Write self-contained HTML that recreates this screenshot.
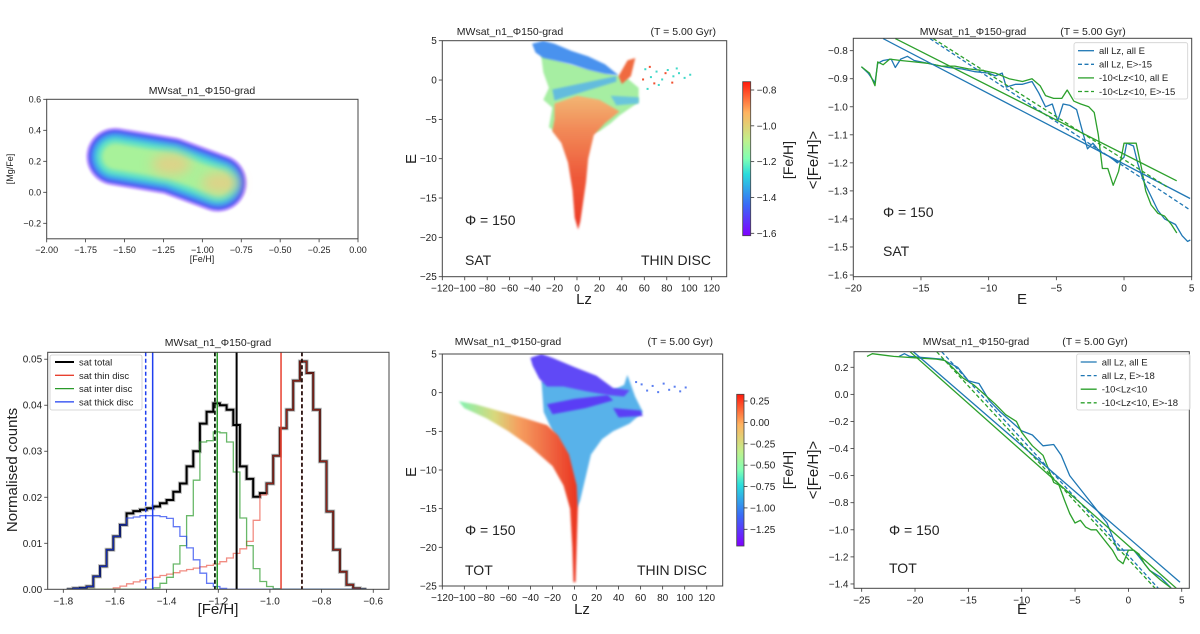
<!DOCTYPE html>
<html><head><meta charset="utf-8">
<style>
html,body{margin:0;padding:0;background:#fff;}
svg{display:block;font-family:"Liberation Sans","DejaVu Sans",sans-serif;}
</style></head>
<body>
<svg id="fig" width="1200" height="634" viewBox="0 0 1200 634" xmlns="http://www.w3.org/2000/svg">
<defs>
<linearGradient id="rainbowV" x1="0" y1="1" x2="0" y2="0">
<stop offset="0" stop-color="#8000ff"/><stop offset="0.2" stop-color="#3a6af7"/><stop offset="0.4" stop-color="#2adcdc"/><stop offset="0.5" stop-color="#80ffb4"/><stop offset="0.62" stop-color="#c0f08c"/><stop offset="0.8" stop-color="#ffb360"/><stop offset="1" stop-color="#ff1a0d"/>
</linearGradient>
<linearGradient id="orangeV" x1="0" y1="0" x2="0" y2="1">
<stop offset="0" stop-color="#f3b673"/><stop offset="0.25" stop-color="#f28a58"/><stop offset="0.6" stop-color="#ee5a3a"/><stop offset="1" stop-color="#ec3a26"/>
</linearGradient>
<linearGradient id="armH" x1="0" y1="0" x2="1" y2="0">
<stop offset="0" stop-color="#80f2b0"/><stop offset="0.3" stop-color="#d8d87c"/><stop offset="0.5" stop-color="#f5a060"/><stop offset="0.75" stop-color="#f06a44"/><stop offset="1" stop-color="#ea3420"/>
</linearGradient>
<filter id="blur1" filterUnits="userSpaceOnUse" x="0" y="0" width="1200" height="634"><feGaussianBlur stdDeviation="1"/></filter>
<filter id="blur2" filterUnits="userSpaceOnUse" x="0" y="0" width="1200" height="634"><feGaussianBlur stdDeviation="2"/></filter>
<filter id="blur6" filterUnits="userSpaceOnUse" x="0" y="0" width="1200" height="634"><feGaussianBlur stdDeviation="6"/></filter>
</defs>
</svg>
<script>
// ---------- data: histogram (bottom-left) ----------
const histStart = -1.787;
const histBinWidth = 0.0258;
const histTotal = [0,0.0002,0.0003,0.0006,0.0028,0.005,0.0086,0.0115,0.014,0.0165,0.017,0.0173,0.0176,0.018,0.0187,0.0194,0.0212,0.023,0.0267,0.030,0.036,0.0386,0.0404,0.040,0.039,0.0357,0.0267,0.024,0.0201,0.0209,0.023,0.029,0.035,0.039,0.0453,0.0495,0.047,0.039,0.0278,0.0169,0.0086,0.0038,0.001,0.0002,0];
const histThick = [0,0.0002,0.0003,0.0006,0.0028,0.005,0.0086,0.0115,0.014,0.0155,0.0157,0.016,0.016,0.016,0.0158,0.0154,0.0136,0.0115,0.009,0.0064,0.0035,0.0013,0.0006,0.0002,0,0,0,0,0,0,0,0,0,0,0,0,0,0,0,0,0,0,0,0,0];
const histThin = [0,0,0,0,0,0,0,0.0003,0.0007,0.0012,0.0016,0.002,0.0023,0.0026,0.003,0.0033,0.0036,0.004,0.0043,0.0046,0.0049,0.0052,0.0055,0.006,0.0068,0.0078,0.0088,0.0104,0.015,0.0205,0.023,0.029,0.035,0.039,0.0453,0.0495,0.047,0.039,0.0278,0.0169,0.0086,0.0038,0.001,0.0002,0];
const histInter = [0,0,0,0,0,0,0,0,0,0,0,0,0,0.0003,0.0013,0.0026,0.0055,0.0095,0.016,0.0237,0.032,0.0323,0.0342,0.034,0.032,0.0255,0.0155,0.0095,0.0045,0.0017,0.0006,0.0001,0,0,0,0,0,0,0,0,0,0,0,0,0];
const meanLines = [ // [value, color, dashed]
  [-1.481,'#1f3ff0',true],[-1.454,'#1f3ff0',false],[-1.213,'#2a9a2a',true],[-1.213,'#000',true],[-1.204,'#2a9a2a',false],
  [-1.129,'#000',false],[-0.957,'#e8402f',false],[-0.876,'#e8402f',true],[-0.876,'#000',true]];
// ---------- data: gradient panels ----------
const satBlue = [[-19.4,-0.857],[-18.9,-0.88],[-18.4,-0.915],[-18.2,-0.845],[-17.8,-0.835],[-17.2,-0.83],[-16.9,-0.86],[-16.5,-0.83],[-16,-0.82],[-15.5,-0.835],[-15,-0.84],[-14,-0.85],[-13,-0.86],[-12,-0.865],[-11,-0.875],[-10,-0.88],[-9.5,-0.89],[-9,-0.88],[-8.7,-0.93],[-8,-0.92],[-7.5,-0.92],[-6.8,-0.91],[-6.3,-0.95],[-5.8,-1.0],[-5.3,-0.99],[-4.9,-1.05],[-4.5,-0.99],[-4.0,-0.995],[-3.5,-1.01],[-3.0,-1.1],[-2.7,-1.15],[-2.3,-1.13],[-1.8,-1.16],[-1.0,-1.18],[-0.5,-1.2],[0,-1.18],[0.2,-1.13],[0.7,-1.14],[1.0,-1.2],[1.4,-1.26],[1.8,-1.3],[2.5,-1.37],[3.0,-1.4],[3.8,-1.42],[4.3,-1.46],[4.7,-1.48],[4.9,-1.475]];
const satGreen = [[-19.4,-0.857],[-18.8,-0.88],[-18.4,-0.925],[-18.2,-0.84],[-17.8,-0.85],[-17.3,-0.83],[-16.5,-0.835],[-15.5,-0.84],[-14.5,-0.845],[-13.5,-0.855],[-12.5,-0.855],[-11.5,-0.865],[-10.5,-0.87],[-9.5,-0.88],[-8.5,-0.9],[-7.5,-0.91],[-6.8,-0.9],[-6.2,-0.925],[-5.8,-0.96],[-5.2,-0.97],[-4.6,-0.97],[-4.2,-0.94],[-3.7,-0.98],[-3.2,-0.99],[-2.6,-1.0],[-2.2,-1.02],[-1.9,-1.1],[-1.6,-1.22],[-1.2,-1.22],[-0.8,-1.28],[-0.4,-1.23],[0,-1.13],[0.5,-1.13],[0.9,-1.13],[1.3,-1.22],[1.6,-1.3],[2.0,-1.35],[2.5,-1.38],[3.0,-1.39],[3.5,-1.42],[3.9,-1.45]];
const satFits = [ // [E0, y0, E1, y1, color, dashed, label]
  [-17.8,-0.757,4.88,-1.327,'#1f77b4',false,'all Lz, all E'],
  [-14.33,-0.757,4.88,-1.368,'#1f77b4',true,'all Lz, E>-15'],
  [-16.9,-0.757,3.89,-1.264,'#2ca02c',false,'-10<Lz<10, all E'],
  [-14.1,-0.757,3.15,-1.285,'#2ca02c',true,'-10<Lz<10, E>-15']];
const totBlue = [[-21.5,0.28],[-21,0.3],[-20.5,0.28],[-19,0.27],[-17.5,0.26],[-16,0.2],[-15,0.1],[-14.5,0.09],[-14,0.08],[-13,-0.05],[-12,-0.13],[-11,-0.2],[-10,-0.27],[-9,-0.3],[-8,-0.38],[-7,-0.37],[-6.3,-0.45],[-5.5,-0.6],[-5,-0.65],[-4,-0.75],[-3,-0.85],[-2,-0.95],[-1.5,-1.05],[-1,-1.15],[0,-1.15],[0.5,-1.15],[1,-1.2],[2,-1.3],[3,-1.35],[4,-1.43]];
const totGreen = [[-24.5,0.28],[-24,0.3],[-22,0.28],[-20,0.27],[-18,0.26],[-17.2,0.25],[-16.5,0.2],[-15.5,0.12],[-14.5,0.07],[-13.5,0.0],[-12.5,-0.07],[-11.5,-0.15],[-10.5,-0.2],[-10,-0.28],[-9.5,-0.33],[-9,-0.38],[-8,-0.45],[-7.5,-0.55],[-7,-0.65],[-6.5,-0.67],[-6,-0.78],[-5.5,-0.88],[-5,-0.95],[-4.5,-0.93],[-4,-0.98],[-3.5,-1.0],[-3,-1.0],[-2.5,-1.05],[-2,-1.1],[-1.5,-1.15],[-1,-1.22],[-0.5,-1.25],[0,-1.15],[0.5,-1.15],[1,-1.18],[1.5,-1.25],[2,-1.3],[3,-1.37],[4,-1.43]];
const totFits = [
  [-20.16,0.315,4.84,-1.388,'#1f77b4',false,'all Lz, all E'],
  [-17.5,0.315,2.8,-1.432,'#1f77b4',true,'all Lz, E>-18'],
  [-20.47,0.315,4.5,-1.432,'#2ca02c',false,'-10<Lz<10'],
  [-17.97,0.315,2.5,-1.432,'#2ca02c',true,'-10<Lz<10, E>-18']];
// ---------- data: Lz-E maps (region outlines in data units) ----------
const satBlueTop = [[-40,4.6],[-30,5],[-20,4.6],[-5,3.7],[10,3],[25,2],[37,0.6],[25,0.8],[10,1.3],[-5,2],[-20,2.5],[-30,2.8],[-37,3.5]];
const satGreenBody = [[-32,3.2],[-10,2.2],[10,1.4],[35,0.6],[45,0.2],[55,-1],[55,-2.8],[45,-3.8],[38,-4.5],[30,-5.5],[20,-6.5],[5,-7],[-15,-7],[-25,-6],[-22,-3.5],[-30,-2.5],[-25,-1],[-30,1]];
const satBand1 = [[-22,-1.2],[35,0.5],[35,-0.2],[-20,-2.6]];
const satBand2 = [[30,-2],[55,-2.2],[55,-3],[35,-3.2]];
const satOrange = [[-20,-3],[0,-2],[20,-2.5],[38,-4],[25,-5.5],[15,-7],[10,-10],[8,-13],[5,-16],[3,-18],[1,-19],[-2,-17.5],[-4,-14],[-8,-10.5],[-14,-8],[-22,-6.5],[-20,-5]];
const satRedPatch = [[37,0.5],[45,2.5],[52,2.8],[48,0.5],[40,-0.5]];
const satSparseCyan = [[60,1.5],[65,0.5],[70,1.2],[75,0.2],[80,1.4],[85,0.6],[90,1.0],[95,0.4],[100,0.8],[72,-0.5],[62,-1],[88,1.6]];
const satSparseRed = [[58,0.2],[68,-0.3],[78,1.0],[84,-0.2],[64,1.8]];
const totPurpleTop = [[-40,4.5],[-30,5],[-20,4.5],[0,3.3],[20,2.2],[35,0.6],[50,0.3],[45,-0.5],[30,-0.3],[10,0.2],[-10,0.8],[-25,0.8],[-32,1.8],[-38,3.5]];
const totBlueBody = [[-30,1.5],[0,1.2],[30,0],[45,1],[48,2.3],[55,-0.5],[62,-2.5],[50,-4],[35,-5],[25,-6],[15,-8],[10,-11],[5,-14],[2,-15],[-5,-11],[-12,-7],[-20,-5],[-28,-2.5]];
const totBand1 = [[-25,-1.5],[0,-0.8],[30,-0.3],[35,-1],[10,-2],[-20,-2.8]];
const totBand2 = [[35,-2],[60,-2.3],[62,-3],[40,-3.2]];
const totArm = [[-105,-1.1],[-90,-1.5],[-70,-2.3],[-45,-3.3],[-25,-4.2],[-15,-5.5],[-5,-8],[2,-12],[3,-15],[2,-20],[1,-24.5],[-1,-24.5],[-2,-20],[-4,-15],[-10,-12],[-20,-9.5],[-40,-7],[-60,-5],[-80,-3.3],[-100,-2]];
const totSparse = [[60,1.2],[65,0.4],[70,1.0],[75,0.2],[80,1.3],[85,0.5],[90,0.9],[95,0.3],[100,0.8],[55,1.5]];
// ---------- data: [Mg/Fe] vs [Fe/H] blob ----------
const blobSpine = [[-1.56,0.23],[-1.2,0.17],[-0.9,0.06]];
const blobPeaks = [[-1.2,0.18],[-0.88,0.06]];
// ---------- tick labels ----------
const tlXticks = [-2,-1.75,-1.5,-1.25,-1,-0.75,-0.5,-0.25,0];
const tlXlabels = ['−2.00','−1.75','−1.50','−1.25','−1.00','−0.75','−0.50','−0.25','0.00'];
const tlYticks = [-0.2,0,0.2,0.4,0.6];
const tlYlabels = ['−0.2','0.0','0.2','0.4','0.6'];
const hXticks = [-1.8,-1.6,-1.4,-1.2,-1.0,-0.8,-0.6];
const hXlabels = ['−1.8','−1.6','−1.4','−1.2','−1.0','−0.8','−0.6'];
const hYticks = [0,0.01,0.02,0.03,0.04,0.05];
const hYlabels = ['0.00','0.01','0.02','0.03','0.04','0.05'];
const lzTicks = [-120,-100,-80,-60,-40,-20,0,20,40,60,80,100,120];
const lzLabels = ['−120','−100','−80','−60','−40','−20','0','20','40','60','80','100','120'];
const eTicks = [5,0,-5,-10,-15,-20,-25];
const eLabels = ['5','0','−5','−10','−15','−20','−25'];
const cb1Ticks = [-0.8,-1.0,-1.2,-1.4,-1.6];
const cb1Labels = ['−0.8','−1.0','−1.2','−1.4','−1.6'];
const cb2Ticks = [0.25,0,-0.25,-0.5,-0.75,-1.0,-1.25];
const cb2Labels = ['0.25','0.00','−0.25','−0.50','−0.75','−1.00','−1.25'];
const gSatX = [-20,-15,-10,-5,0,5];
const gSatXl = ['−20','−15','−10','−5','0','5'];
const gSatY = [-0.8,-0.9,-1.0,-1.1,-1.2,-1.3,-1.4,-1.5,-1.6];
const gSatYl = ['−0.8','−0.9','−1.0','−1.1','−1.2','−1.3','−1.4','−1.5','−1.6'];
const gTotX = [-25,-20,-15,-10,-5,0,5];
const gTotXl = ['−25','−20','−15','−10','−5','0','5'];
const gTotY = [0.2,0,-0.2,-0.4,-0.6,-0.8,-1.0,-1.2,-1.4];
const gTotYl = ['0.2','0.0','−0.2','−0.4','−0.6','−0.8','−1.0','−1.2','−1.4'];

const NS='http://www.w3.org/2000/svg';
const fig=document.getElementById('fig');
function mk(tag, attrs, name, parent){
  const e=document.createElementNS(NS,tag);
  for(const k in attrs) e.setAttribute(k,attrs[k]);
  
  
  (parent||fig).appendChild(e);
  return e;
}
function txt(x,y,s,size,name,opts){
  opts=opts||{};
  const a={x:x,y:y,'font-size':size,fill:opts.fill||'#222','text-anchor':opts.anchor||'middle'};
  if(opts.rot) a.transform='rotate(-90 '+x+' '+y+')';
  const t=mk('text',a,name,opts.parent);
  t.textContent=s;
  return t;
}
function makeAxes(c){
  const g=mk('g',{},c.name);
  const sx=v=>c.px0+(v-c.xmin)/(c.xmax-c.xmin)*(c.px1-c.px0);
  const sy=v=>c.py1-(v-c.ymin)/(c.ymax-c.ymin)*(c.py1-c.py0);
  const clipId='clip-'+c.name;
  const cp=mk('clipPath',{id:clipId},'clip-path',g);
  mk('rect',{x:c.px0,y:c.py0,width:c.px1-c.px0,height:c.py1-c.py0},'clip-rect',cp);
  const plot=mk('g',{'clip-path':'url(#'+clipId+')'},'plot-area',g);
  const xg=mk('g',{},'x-axis',g);
  c.xt.forEach((v,i)=>{
    const x=sx(v);
    mk('line',{x1:x,x2:x,y1:c.py1,y2:c.py1+3.5,stroke:'#333','stroke-width':0.8},'x-tick',xg);
    txt(x,c.py1+5+c.fs,c.xl[i],c.fs,'x-tick-label',{parent:xg});
  });
  const yg=mk('g',{},'y-axis',g);
  c.yt.forEach((v,i)=>{
    const y=sy(v);
    mk('line',{x1:c.px0-3.5,x2:c.px0,y1:y,y2:y,stroke:'#333','stroke-width':0.8},'y-tick',yg);
    txt(c.px0-5.5,y+c.fs*0.35,c.yl[i],c.fs,'y-tick-label',{parent:yg,anchor:'end'});
  });
  return {g,plot,sx,sy,c,
    frame(){mk('rect',{x:c.px0,y:c.py0,width:c.px1-c.px0,height:c.py1-c.py0,fill:'none',stroke:'#444','stroke-width':1},'axes-frame',g);}};
}
function poly(ax,pts,fill,name,extra){
  const a={points:pts.map(p=>ax.sx(p[0]).toFixed(1)+','+ax.sy(p[1]).toFixed(1)).join(' '),fill:fill,filter:'url(#blur1)'};
  Object.assign(a,extra||{});
  return mk('polygon',a,name,ax.plot);
}
function line(ax,pts,color,w,name,dash){
  const a={points:pts.map(p=>ax.sx(p[0]).toFixed(1)+','+ax.sy(p[1]).toFixed(1)).join(' '),fill:'none',stroke:color,'stroke-width':w,'stroke-linejoin':'round'};
  if(dash) a['stroke-dasharray']=dash;
  return mk('polyline',a,name,ax.plot);
}

// ===== Panel A: [Mg/Fe] vs [Fe/H] =====
const A=makeAxes({name:'mgfe-panel',px0:46.7,px1:358,py0:99.3,py1:238.8,xmin:-2,xmax:0,ymin:-0.3,ymax:0.6,xt:tlXticks,xl:tlXlabels,yt:tlYticks,yl:tlYlabels,fs:9});
const spinePts=blobSpine.map(p=>A.sx(p[0]).toFixed(1)+','+A.sy(p[1]).toFixed(1)).join(' ');
[[58,'#a070ff',0.7,1],[53,'#5a55f4',1,1],[47,'#3aa8ec',1,2],[38,'#5ee0c8',1,2],[27,'#a8f29a',1,2]].forEach(s=>{
  mk('polyline',{points:spinePts,fill:'none',stroke:s[1],'stroke-width':s[0],'stroke-linecap':'round','stroke-linejoin':'round',opacity:s[2],filter:'url(#blur'+s[3]+')'},'density-layer',A.plot);
});
blobPeaks.forEach(p=>{
  mk('ellipse',{cx:A.sx(p[0]),cy:A.sy(p[1]),rx:20,ry:11,fill:'#f0c882',opacity:0.75,filter:'url(#blur6)'},'density-peak',A.plot);
});
A.frame();
txt(202,94,'MWsat_n1_Φ150-grad',10.5,'mgfe-title');
txt(202,262,'[Fe/H]',9,'mgfe-x-label');
txt(13,169,'[Mg/Fe]',9,'mgfe-y-label',{rot:true});

// ===== Panel B: histogram =====
const B=makeAxes({name:'histogram-panel',px0:47.7,px1:389,py0:352.3,py1:589.3,xmin:-1.8604,xmax:-0.539,ymin:0,ymax:0.0515,xt:hXticks,xl:hXlabels,yt:hYticks,yl:hYlabels,fs:10});
function stepPath(ax,arr){
  let d='M'+ax.sx(histStart).toFixed(1)+','+ax.sy(0).toFixed(1);
  arr.forEach((v,i)=>{d+=' V'+ax.sy(v).toFixed(1)+' H'+ax.sx(histStart+(i+1)*histBinWidth).toFixed(1);});
  return d+' V'+ax.sy(0).toFixed(1);
}
mk('path',{d:stepPath(B,histTotal),fill:'none',stroke:'#bbb','stroke-width':4},'hist-total-halo',B.plot);
mk('path',{d:stepPath(B,histTotal),fill:'none',stroke:'#000','stroke-width':2},'hist-sat-total',B.plot);
mk('path',{d:stepPath(B,histThin),fill:'none',stroke:'#e8402f','stroke-width':1.3,opacity:0.6},'hist-sat-thin',B.plot);
mk('path',{d:stepPath(B,histInter),fill:'none',stroke:'#2a9a2a','stroke-width':1.3,opacity:0.7},'hist-sat-inter',B.plot);
mk('path',{d:stepPath(B,histThick),fill:'none',stroke:'#1f3ff0','stroke-width':1.3,opacity:0.7},'hist-sat-thick',B.plot);
meanLines.forEach(m=>{
  const x=B.sx(m[0]);
  const a={x1:x,x2:x,y1:352.3,y2:589.3,stroke:m[1],'stroke-width':m[1]=='#000'&&!m[2]?2:1.5};
  if(m[2]) a['stroke-dasharray']='4,2.5';
  mk('line',a,'mean-line',B.plot);
});
B.frame();
const lg=mk('g',{},'hist-legend');
mk('rect',{x:50,y:355,width:92,height:55,fill:'#fff',stroke:'#ccc','stroke-width':0.8,rx:2},'legend-box',lg);
[['sat total','#000',2],['sat thin disc','#e8402f',1.3],['sat inter disc','#2a9a2a',1.3],['sat thick disc','#1f3ff0',1.3]].forEach((e,i)=>{
  const y=362+i*13.3;
  mk('line',{x1:55,x2:74,y1:y,y2:y,stroke:e[1],'stroke-width':e[2]},'legend-entry-line',lg);
  txt(79,y+3.5,e[0],9.5,'legend-entry',{parent:lg,anchor:'start'});
});
txt(218,346,'MWsat_n1_Φ150-grad',10.5,'hist-title');
txt(218,614,'[Fe/H]',15,'hist-x-label');
txt(17,470,'Normalised counts',15,'hist-y-label',{rot:true});

// ===== Panel C / D: Lz-E maps =====
function colorbar(x0,x1,y0,y1,ticks,labels,vTop,vBot,ty0,ty1,name){
  const g=mk('g',{},name);
  mk('rect',{x:x0,y:y0,width:x1-x0,height:y1-y0,fill:'url(#rainbowV)',stroke:'#444','stroke-width':0.8},'colorbar-rect',g);
  ticks.forEach((v,i)=>{
    const y=ty0+(v-vTop)/(vBot-vTop)*(ty1-ty0);
    mk('line',{x1:x1,x2:x1+3.5,y1:y,y2:y,stroke:'#333','stroke-width':0.8},'colorbar-tick',g);
    txt(x1+6,y+3.5,labels[i],10,'colorbar-tick-label',{parent:g,anchor:'start'});
  });
  return g;
}
const C=makeAxes({name:'lz-e-sat-panel',px0:442.3,px1:726.7,py0:40.7,py1:276.7,xmin:-120,xmax:133.4,ymin:-25,ymax:5,xt:lzTicks,xl:lzLabels,yt:eTicks,yl:eLabels,fs:10});
poly(C,satGreenBody,'#a6eea2','sat-inter-region');
poly(C,satOrange,'url(#orangeV)','sat-metal-rich-region');
poly(C,satBlueTop,'#4a92ee','sat-metal-poor-top');
poly(C,satBand1,'#58b4e8','sat-blue-band',{opacity:0.85});
poly(C,satBand2,'#60c0e6','sat-blue-band-right',{opacity:0.85});
poly(C,satRedPatch,'#f06a40','sat-red-patch');
satSparseCyan.forEach(p=>mk('rect',{x:C.sx(p[0]),y:C.sy(p[1]),width:2,height:2,fill:'#40d8c8'},'sparse-point',C.plot));
satSparseRed.forEach(p=>mk('rect',{x:C.sx(p[0]),y:C.sy(p[1]),width:2,height:2,fill:'#f05030'},'sparse-point',C.plot));
C.frame();
colorbar(742.7,750.7,81.7,235.7,cb1Ticks,cb1Labels,-0.8,-1.6,90,233.3,'colorbar-sat');
txt(510,35,'MWsat_n1_Φ150-grad',10.5,'lz-e-sat-title');
txt(716,35,'(T = 5.00 Gyr)',10.5,'lz-e-sat-time',{anchor:'end'});
txt(584,304,'Lz',15,'lz-e-sat-x-label');
txt(416,159,'E',15,'lz-e-sat-y-label',{rot:true});
txt(793,160,'[Fe/H]',14,'colorbar-sat-label',{rot:true});
txt(465,225,'Φ = 150',14,'sat-phi-annotation',{anchor:'start'});
txt(465,265,'SAT',14,'sat-annotation',{anchor:'start'});
txt(711,265,'THIN DISC',14,'thin-disc-annotation',{anchor:'end'});

const D=makeAxes({name:'lz-e-tot-panel',px0:442.3,px1:722.7,py0:354,py1:586,xmin:-120,xmax:134.5,ymin:-25,ymax:5,xt:lzTicks,xl:lzLabels,yt:eTicks,yl:eLabels,fs:10});
poly(D,totBlueBody,'#58b2ea','tot-blue-region');
poly(D,totArm,'url(#armH)','tot-metal-rich-arm');
poly(D,totPurpleTop,'#6048f6','tot-metal-poor-top');
poly(D,totBand1,'#5a3ef5','tot-purple-band');
poly(D,totBand2,'#5a40f5','tot-purple-band-right');
totSparse.forEach(p=>mk('rect',{x:D.sx(p[0]),y:D.sy(p[1]),width:2,height:2,fill:'#5a7ef0'},'sparse-point',D.plot));
D.frame();
colorbar(736.7,744,394.3,546,cb2Ticks,cb2Labels,0.25,-1.25,401,529.3,'colorbar-tot');
txt(508,345,'MWsat_n1_Φ150-grad',10.5,'lz-e-tot-title');
txt(713,345,'(T = 5.00 Gyr)',10.5,'lz-e-tot-time',{anchor:'end'});
txt(582,614,'Lz',15,'lz-e-tot-x-label');
txt(416,472,'E',15,'lz-e-tot-y-label',{rot:true});
txt(793,470,'[Fe/H]',14,'colorbar-tot-label',{rot:true});
txt(465,535,'Φ = 150',14,'tot-phi-annotation',{anchor:'start'});
txt(465,575,'TOT',14,'tot-annotation',{anchor:'start'});
txt(707,575,'THIN DISC',14,'thin-disc-annotation',{anchor:'end'});

// ===== Panel E / F: gradients =====
function gradPanel(cfg,blue,green,fits,leg){
  const ax=makeAxes(cfg);
  line(ax,blue,'#1f77b4',1.3,'mean-feh-all-lz');
  line(ax,green,'#2ca02c',1.3,'mean-feh-low-lz');
  fits.forEach(f=>line(ax,[[f[0],f[1]],[f[2],f[3]]],f[4],1.3,'linear-fit',f[5]?'4,2.5':null));
  ax.frame();
  const g=mk('g',{},'gradient-legend');
  mk('rect',{x:leg.x,y:leg.y,width:leg.w,height:leg.h,fill:'#fff',stroke:'#ccc','stroke-width':0.8,rx:2,opacity:0.9},'legend-box',g);
  fits.forEach((f,i)=>{
    const y=leg.y+8+i*13.6;
    const a={x1:leg.x+4,x2:leg.x+20,y1:y,y2:y,stroke:f[4],'stroke-width':1.3};
    if(f[5]) a['stroke-dasharray']='4,2.5';
    mk('line',a,'legend-entry-line',g);
    txt(leg.x+25,y+3.3,f[6],9.5,'legend-entry',{parent:g,anchor:'start'});
  });
  return ax;
}
gradPanel({name:'gradient-sat-panel',px0:853.3,px1:1191.7,py0:38.3,py1:276.7,xmin:-20,xmax:5,ymin:-1.606,ymax:-0.7558,xt:gSatX,xl:gSatXl,yt:gSatY,yl:gSatYl,fs:10},satBlue,satGreen,satFits,{x:1074,y:42.7,w:113.7,h:56.3});
txt(973,35,'MWsat_n1_Φ150-grad',10.5,'gradient-sat-title');
txt(1093,35,'(T = 5.00 Gyr)',10.5,'gradient-sat-time');
txt(1022,304,'E',15,'gradient-sat-x-label');
txt(818,160,'<[Fe/H]>',15,'gradient-sat-y-label',{rot:true});
txt(883,217,'Φ = 150',14,'gradient-sat-phi',{anchor:'start'});
txt(883,256,'SAT',14,'gradient-sat-annotation',{anchor:'start'});

gradPanel({name:'gradient-tot-panel',px0:854,px1:1189.3,py0:351.7,py1:588.3,xmin:-25.72,xmax:5.71,ymin:-1.432,ymax:0.315,xt:gTotX,xl:gTotXl,yt:gTotY,yl:gTotYl,fs:10},totBlue,totGreen,totFits,{x:1076.7,y:354,w:113.3,h:56});
txt(976,345,'MWsat_n1_Φ150-grad',10.5,'gradient-tot-title');
txt(1095,345,'(T = 5.00 Gyr)',10.5,'gradient-tot-time');
txt(1022,614,'E',15,'gradient-tot-x-label');
txt(818,470,'<[Fe/H]>',15,'gradient-tot-y-label',{rot:true});
txt(889,535,'Φ = 150',14,'gradient-tot-phi',{anchor:'start'});
txt(889,573,'TOT',14,'gradient-tot-annotation',{anchor:'start'});
</script>
</body></html>
